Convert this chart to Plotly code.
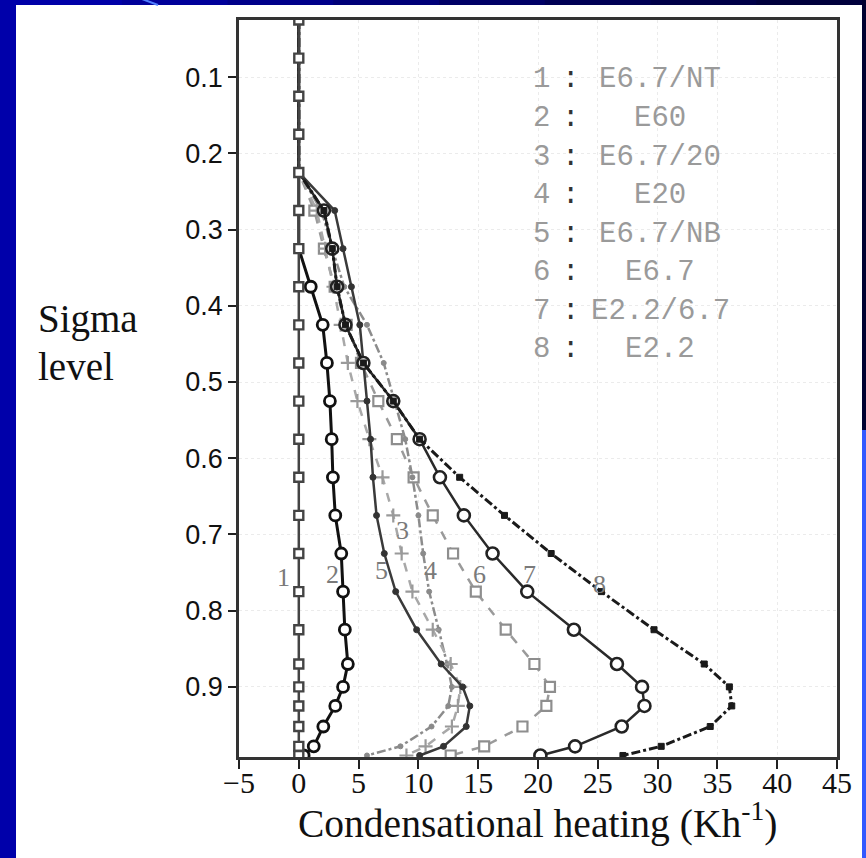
import plotly.graph_objects as go

# ---------------- data ----------------
sigma_levels = [0.025, 0.075, 0.125, 0.175, 0.225, 0.275, 0.325, 0.375, 0.425, 0.475,
                0.525, 0.575, 0.625, 0.675, 0.725, 0.775, 0.825, 0.87, 0.9, 0.925,
                0.952, 0.978, 0.99]

e67_nt = [0, 0, 0, 0, 0, 0, 0, 0, 0, 0, 0, 0, 0, 0, 0, 0, 0, 0, 0, 0, 0, 0, 0]
e60 = [0, 0, 0, 0, 0, 0, 0, 1.0, 2.0, 2.35, 2.6, 2.75, 2.85, 3.05, 3.55, 3.7, 3.85,
       4.1, 3.7, 3.05, 2.05, 1.25, 0.4]
e67_20 = [0, 0, 0, 0, 0, 1.5, 2.2, 2.9, 3.5, 4.1, 4.9, 5.9, 7.0, 7.9, 8.6, 9.5, 11.2,
          12.7, 13.5, 13.3, 12.8, 10.6, 9.0]
e20 = [0, 0, 0, 0, 0, 1.9, 2.8, 3.8, 5.7, 7.1, 8.0, 8.9, 9.5, 10.0, 10.4, 10.9, 11.7,
       12.4, 12.8, 12.5, 11.1, 8.5, 5.7]
e67_nb = [0, 0, 0, 0, 0, 3.0, 3.7, 4.4, 5.1, 5.4, 5.7, 6.0, 6.2, 6.5, 7.15, 8.1, 9.85,
          11.9, 13.7, 14.3, 14.0, 12.1, 10.1]
e67 = [0, 0, 0, 0, 0, 1.3, 2.1, 3.0, 4.0, 5.2, 6.65, 8.2, 9.6, 11.2, 12.9, 14.8, 17.3,
       19.7, 21.0, 20.7, 18.7, 15.5, 12.7]
e22_67 = [0, 0, 0, 0, 0, 2.1, 2.8, 3.2, 3.9, 5.4, 7.9, 10.1, 11.8, 13.8, 16.2, 19.1, 23.0,
          26.6, 28.7, 28.9, 27.0, 23.1, 20.2]
e22 = [0, 0, 0, 0, 0, 2.1, 2.8, 3.2, 3.9, 5.4, 7.9, 10.1, 13.45, 17.2, 21.1, 25.3, 29.7,
       33.9, 36.0, 36.2, 34.4, 30.3, 27.1]

legend_nums = ["1", "2", "3", "4", "5", "6", "7", "8"]
legend_names = ["E6.7/NT", "E60", "E6.7/20", "E20", "E6.7/NB", "E6.7", "E2.2/6.7", "E2.2"]

x_ticks = [-5, 0, 5, 10, 15, 20, 25, 30, 35, 40, 45]
y_ticks = [0.1, 0.2, 0.3, 0.4, 0.5, 0.6, 0.7, 0.8, 0.9]
y_ticklabels = ["0.1", "0.2", "0.3", "0.4", "0.5", "0.6", "0.7", "0.8", "0.9"]

# curve number labels: (text, x value, sigma)
curve_labels = [("1", -1.3, 0.756), ("2", 2.8, 0.753), ("5", 6.95, 0.747), ("3", 8.7, 0.695),
                ("4", 11.0, 0.747), ("6", 15.1, 0.753), ("7", 19.3, 0.753), ("8", 25.1, 0.766)]

# ---------------- layout geometry ----------------
W, H = 866, 858
L, R, T, B = 239, 29, 20, 101
PW, PH = W - L - R, H - T - B


def px(x):
    return (x - L) / PW


def py(y):
    return (H - B - y) / PH


def sizes(vals, s):
    return [0 if v == 0 else s for v in vals]


fig = go.Figure()

series = [
    # values, line color, width, dash, marker symbol, marker size, marker line color, fill, marker line width
    (e67, "#9a9a9a", 2.5, "dash", "square", 10, "#8e8e8e", "white", 2.2),
    (e20, "#8c8c8c", 2.5, "dashdot", "circle", 5, "#8a8a8a", "#8a8a8a", 1),
    (e67_20, "#a8a8a8", 2.5, "dash", "cross-thin", 10, "#9a9a9a", "#9a9a9a", 2.2),
    (e67_nb, "#3a3a3a", 2.5, "solid", "circle", 6, "#333333", "#333333", 1),
    (e22_67, "#2a2a2a", 2.5, "solid", "circle", 12, "#222222", "white", 2.6),
    (e22, "#1a1a1a", 3, "dashdot", "square", 6, "#1a1a1a", "#1a1a1a", 1),
    (e60, "#111111", 3, "solid", "circle", 11, "#111111", "white", 2.8),
]
for vals, col, w, dash, sym, ms, mc, fill, mlw in series:
    fig.add_trace(go.Scatter(
        x=vals, y=sigma_levels, mode="lines+markers",
        line=dict(color=col, width=w, dash=dash),
        marker=dict(symbol=sym, size=sizes(vals, ms), color=fill, opacity=1,
                    line=dict(color=mc, width=mlw)),
        showlegend=False, hoverinfo="skip"))

fig.add_trace(go.Scatter(
    x=e67_nt, y=sigma_levels, mode="lines+markers",
    line=dict(color="#444444", width=2.5),
    marker=dict(symbol="square", size=9, color="white", opacity=1,
                line=dict(color="#444444", width=2.4)),
    showlegend=False, hoverinfo="skip"))

# ---------------- background ----------------
shapes = []
shapes.append(dict(type="rect", xref="paper", yref="paper", x0=px(16), x1=px(862), y0=py(870), y1=py(5),
                   fillcolor="white", line=dict(width=0), layer="below"))
tops = ["#0000a8", "#00009a", "#00008a", "#000078", "#000066", "#000055", "#000048", "#00003c"]
n = len(tops)
for i, c in enumerate(tops):
    x0 = 16 + (862 - 16) * i / n
    x1 = 16 + (862 - 16) * (i + 1) / n + 1
    shapes.append(dict(type="rect", xref="paper", yref="paper", x0=px(x0), x1=px(x1), y0=py(5), y1=py(-2),
                       fillcolor=c, line=dict(width=0), layer="below"))
shapes.append(dict(type="rect", xref="paper", yref="paper", x0=px(862), x1=px(870), y0=py(430), y1=py(-2),
                   fillcolor="#000030", line=dict(width=0), layer="below"))
shapes.append(dict(type="rect", xref="paper", yref="paper", x0=px(862), x1=px(870), y0=py(870), y1=py(430),
                   fillcolor="#3358ff", line=dict(width=0), layer="below"))
shapes.append(dict(type="line", xref="paper", yref="paper", x0=px(142), x1=px(158), y0=py(-1), y1=py(5),
                   line=dict(color="#4f7dff", width=2), layer="below"))

annotations = []
for i, (num, name) in enumerate(zip(legend_nums, legend_names)):
    yy = 80 + 38.5 * i
    annotations.append(dict(xref="paper", yref="paper", x=px(541), y=py(yy), text=num, showarrow=False,
                            font=dict(family="Liberation Mono", size=29, color="#9a9a9a"),
                            xanchor="center", yanchor="middle"))
    annotations.append(dict(xref="paper", yref="paper", x=px(570), y=py(yy), text=":", showarrow=False,
                            font=dict(family="Liberation Mono", size=29, color="#333333"),
                            xanchor="center", yanchor="middle"))
    annotations.append(dict(xref="paper", yref="paper", x=px(660), y=py(yy), text=name, showarrow=False,
                            font=dict(family="Liberation Mono", size=29, color="#9a9a9a"),
                            xanchor="center", yanchor="middle"))
for txt, xv, sv in curve_labels:
    annotations.append(dict(xref="x", yref="y", x=xv, y=sv, text=txt, showarrow=False,
                            font=dict(family="Liberation Serif", size=26, color="#7a7a7a"),
                            xanchor="center", yanchor="middle"))
annotations.append(dict(xref="paper", yref="paper", x=px(36), y=py(343), text="Sigma", showarrow=False,
                        font=dict(family="Liberation Serif", size=39, color="#111111"),
                        xanchor="left", yanchor="bottom"))
annotations.append(dict(xref="paper", yref="paper", x=px(36), y=py(390), text="level", showarrow=False,
                        font=dict(family="Liberation Serif", size=39, color="#111111"),
                        xanchor="left", yanchor="bottom"))
annotations.append(dict(xref="paper", yref="paper", x=px(537), y=py(848),
                        text="Condensational heating (Kh<sup>-1</sup>)",
                        showarrow=False, font=dict(family="Liberation Serif", size=39.5, color="#111111"),
                        xanchor="center", yanchor="bottom"))

fig.update_layout(
    width=W, height=H,
    margin=dict(l=L, r=R, t=T, b=B, pad=0),
    paper_bgcolor="#0000aa",
    plot_bgcolor="white",
    shapes=shapes,
    annotations=annotations,
    xaxis=dict(range=[-5, 45], tickvals=x_ticks, ticks="outside", ticklen=9, tickwidth=2,
               tickcolor="#222222", showline=True, linecolor="#333333", linewidth=2.5, mirror=True,
               showgrid=True, gridcolor="#ebebeb", griddash="dot", gridwidth=1, zeroline=False,
               ticklabelstandoff=-12,
               tickfont=dict(family="Liberation Serif", size=30, color="#111111")),
    yaxis=dict(range=[0.992, 0.025], tickvals=y_ticks, ticktext=y_ticklabels, ticks="outside",
               ticklen=8, tickwidth=2, tickcolor="#222222", showline=True, linecolor="#333333",
               linewidth=2.5, mirror=True, showgrid=True, gridcolor="#ebebeb", griddash="dot",
               gridwidth=1, zeroline=False,
               tickfont=dict(family="Liberation Sans", size=27, color="#111111")),
)

fig.write_html("out.html")
